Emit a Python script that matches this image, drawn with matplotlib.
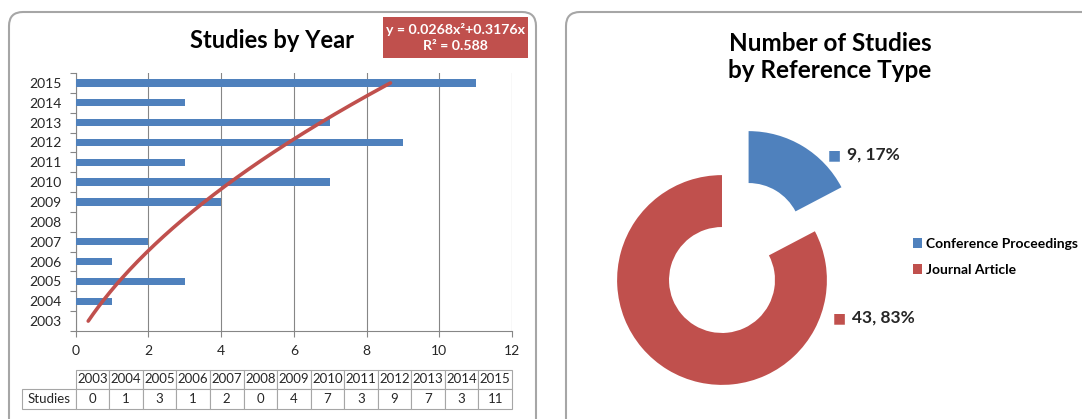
import matplotlib.pyplot as plt
import numpy as np
from matplotlib.patches import FancyBboxPatch
from matplotlib.transforms import IdentityTransform

plt.rcParams['font.family'] = ['Lato', 'DejaVu Sans']

# data
years = ['2003', '2004', '2005', '2006', '2007', '2008', '2009',
         '2010', '2011', '2012', '2013', '2014', '2015']
studies = [0, 1, 3, 1, 2, 0, 4, 7, 3, 9, 7, 3, 11]
trend_a = 0.0268
trend_b = 0.3176
trend_r2 = 0.588

ref_types = ['Conference Proceedings', 'Journal Article']
ref_counts = [9, 43]
ref_colors = ['#4F81BD', '#C0504D']

W, H = 1082, 419
fig = plt.figure(figsize=(W / 100, H / 100), dpi=100)


def box(x0, y0, x1, y1):
    # pixel rectangle (top-left origin) -> figure fraction
    return [x0 / W, 1 - y1 / H, (x1 - x0) / W, (y1 - y0) / H]


def ft(x, y, s, **kw):
    fig.text(x / W, 1 - y / H, s, **kw)


# panel borders
for x0, y0, x1, y1 in [(9, 12, 536, 440), (566, 12, 1100, 440)]:
    p = FancyBboxPatch((x0, H - y1), x1 - x0, y1 - y0,
                       boxstyle='round,pad=0,rounding_size=14',
                       transform=IdentityTransform(), fc='none',
                       ec='#A6A6A6', lw=1.5)
    fig.add_artist(p)

# ---- left: studies by year ----
ax = fig.add_axes(box(75.7, 73, 512, 331))
pos = np.arange(1, len(years) + 1)
ax.barh(pos, studies, height=0.37, color='#4F81BD', zorder=3)
t = np.linspace(1, len(years), 200)
ax.plot(trend_a * t ** 2 + trend_b * t, t, color='#C0504D', lw=2.6,
        solid_capstyle='round', zorder=4)
ax.set_xlim(0, 12)
ax.set_xticks(range(0, 13, 2))
ax.set_ylim(0.5, len(years) + 0.5)
ax.set_yticks(pos)
ax.set_yticklabels(years)
ax.set_yticks(np.arange(0.5, len(years) + 1), minor=True)
ax.tick_params(axis='y', which='major', length=0, pad=10, labelsize=10,
               colors='#262626')
ax.tick_params(axis='y', which='minor', length=4.5, color='#868686', width=0.8)
ax.tick_params(axis='x', length=4, color='#868686', width=0.8, pad=6,
               labelsize=10, colors='#262626')
ax.grid(axis='x', color='#868686', lw=0.8, zorder=0)
for s in ['top', 'right']:
    ax.spines[s].set_visible(False)
for s in ['left', 'bottom']:
    ax.spines[s].set_color('#868686')
    ax.spines[s].set_linewidth(0.8)

ft(272, 40, 'Studies by Year', ha='center', va='center', fontsize=17,
   fontweight='bold', color='black')

eq = 'y = %.4fx\u00b2+%.4fx\nR\u00b2 = %.3f' % (trend_a, trend_b, trend_r2)
fig.add_artist(FancyBboxPatch((383, H - 58), 145, 41, boxstyle='square,pad=0',
                              transform=IdentityTransform(), fc='#C0504D', ec='none'))
ft(455.5, 37.5, eq, ha='center', va='center', fontsize=10.2,
   fontweight='bold', color='white', linespacing=1.4)

# data table
tax = fig.add_axes(box(22, 369.5, 512, 409))
tax.axis('off')
cells = [[''] + years, ['Studies'] + [str(v) for v in studies]]
col_w = [53.7] + [436.3 / len(years)] * len(years)
tbl = tax.table(cellText=cells, colWidths=col_w, bbox=[0, 0, 1, 1],
                cellLoc='center')
tbl.auto_set_font_size(False)
for (r, c), cell in tbl.get_celld().items():
    cell.set_edgecolor('#A6A6A6')
    cell.set_linewidth(0.8)
    cell.get_text().set_fontsize(9.5)
    cell.get_text().set_color('#262626')
tbl[0, 0].visible_edges = ''
tbl[0, 0].set_edgecolor('none')

# ---- right: reference type donut ----
pax = fig.add_axes(box(572, 130, 872, 430))
wedges, _ = pax.pie(ref_counts, colors=ref_colors, startangle=90,
                    counterclock=False, explode=[0.49, 0], radius=1,
                    wedgeprops=dict(width=0.495, edgecolor='none'))
pax.set_xlim(-1.43, 1.43)
pax.set_ylim(-1.43, 1.43)
pax.set_aspect('equal')
pax.axis('off')

ft(830, 57, 'Number of Studies\nby Reference Type', ha='center', va='center',
   fontsize=17.5, fontweight='bold', color='black', linespacing=1.2)

total = sum(ref_counts)
label_xy = [(834, 155), (839, 318)]
for (x, y), n, col in zip(label_xy, ref_counts, ref_colors):
    ft(x, y, '\u25A0', ha='center', va='center', fontsize=10, color=col,
       family='DejaVu Sans')
    ft(x + 13, y, '%d, %d%%' % (n, round(100 * n / total)), ha='left',
       va='center', fontsize=12.5, fontweight='bold', color='#262626')

fig.legend(wedges, ref_types, loc='center left',
           bbox_to_anchor=(900 / W, 1 - 257 / H), frameon=False,
           handlelength=0.7, handleheight=0.7, handletextpad=0.3,
           labelspacing=1.0, prop=dict(size=10, weight='bold'))

fig.savefig('out.png', dpi=100)
